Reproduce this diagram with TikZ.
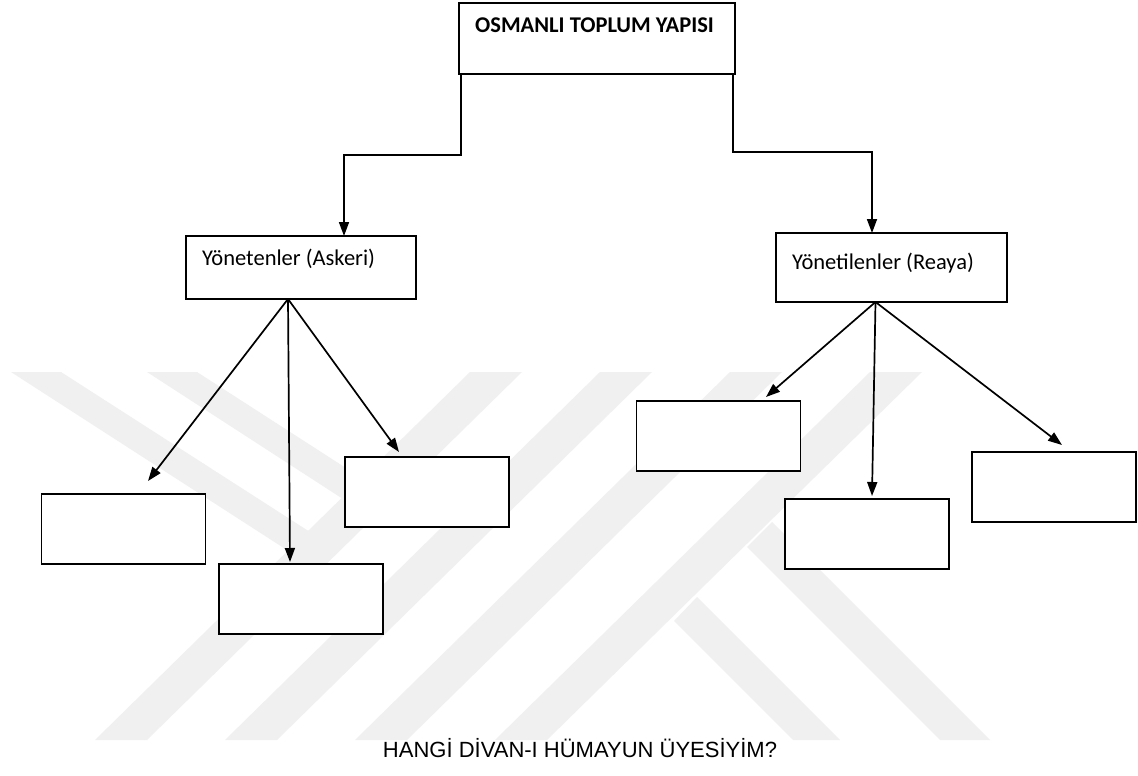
\documentclass[tikz,border=0pt]{standalone}
\usepackage{fontspec}
\setmainfont{Carlito}
\newfontfamily\arialfont{Liberation Sans}
\usetikzlibrary{arrows.meta,calc}
\definecolor{wmark}{gray}{0.94}

\begin{document}
\begin{tikzpicture}[x=1pt,y=-1pt,
    box/.style={draw,fill=white,line width=1.5pt,minimum width=#1,minimum height=70pt,inner sep=0pt,outer sep=0pt},
    box/.default=164pt,
    arr/.style={-{Triangle[length=14pt,width=10pt]},line width=1.7pt},
    lbl/.style={anchor=base west,inner sep=0pt,font=\fontsize{22.5}{26}\selectfont}]
  \useasboundingbox[fill=white] (0,0) rectangle (1138,776);

  % watermark in the background
  \fill[wmark] (11,372) -- (61,372) -- (310,532) -- (290,552) -- cycle;
  \fill[wmark] (147,372) -- (197,372) -- (363,479) -- (343,499) -- cycle;
  \foreach \xa in {470,600,730,870}
    \fill[wmark] (\xa,372) -- (\xa+52,372) -- (\xa-323,740) -- (\xa-375,740) -- cycle;
  \fill[wmark] (772,522) -- (990,740) -- (940,740) -- (747,547) -- cycle;
  \fill[wmark] (697,597) -- (840,740) -- (793,740) -- (674,621) -- cycle;

  % boxes
  \node[box=276pt,minimum height=71pt] (top) at (597,38.5) {};
  \node[lbl] (ttl) at (475,33) {\bfseries OSMANLI TOPLUM YAPISI};
  \node[box=230pt,minimum height=63pt] (yon) at (301,267.5) {};
  \node[lbl] (yontxt) at (202,265) {Yönetenler (Askeri)};
  \node[box=231pt,minimum height=69pt] (yli) at (891.5,267.5) {};
  \node[lbl] (ylitxt) at (792,269) {Yönetilenler (Reaya)};

  \node[box] (b1) at (123.5,529) {};
  \node[box] (b2) at (301,599) {};
  \node[box] (b3) at (427,492) {};
  \node[box] (c1) at (718.5,436) {};
  \node[box] (c2) at (867,534) {};
  \node[box] (c3) at (1054,487) {};

  % from the title down to the two groups
  \coordinate (lbend) at (344,155);
  \coordinate (rbend) at (872,152);
  \draw[arr] ([xshift=2pt]top.south west) |- (lbend) -- (lbend |- yon.north);
  \draw[arr] ([xshift=-2pt]top.south east) |- (rbend) -- (rbend |- yli.north);

  % from each group to its boxes
  \coordinate (yo) at ([xshift=-13pt]yon.south);
  \coordinate (yi) at ([xshift=-16pt]yli.south);
  \draw[arr] (yo) -- ([shift={(24.5,-13)}]b1.north);
  \draw[arr] (yo) -- ([shift={(-11,-2)}]b2.north);
  \draw[arr] (yo) -- ([shift={(-28,-5)}]b3.north);
  \draw[arr] (yi) -- ([shift={(47.5,-4)}]c1.north);
  \draw[arr] (yi) -- ([shift={(5,-3)}]c2.north);
  \draw[arr] (yi) -- ([shift={(8,-7)}]c3.north);

  \node[anchor=base,inner sep=0pt,font=\fontsize{22}{26}\selectfont\arialfont] (quest) at (580,757) {HANGİ DİVAN-I HÜMAYUN ÜYESİYİM?};
\end{tikzpicture}
\end{document}
